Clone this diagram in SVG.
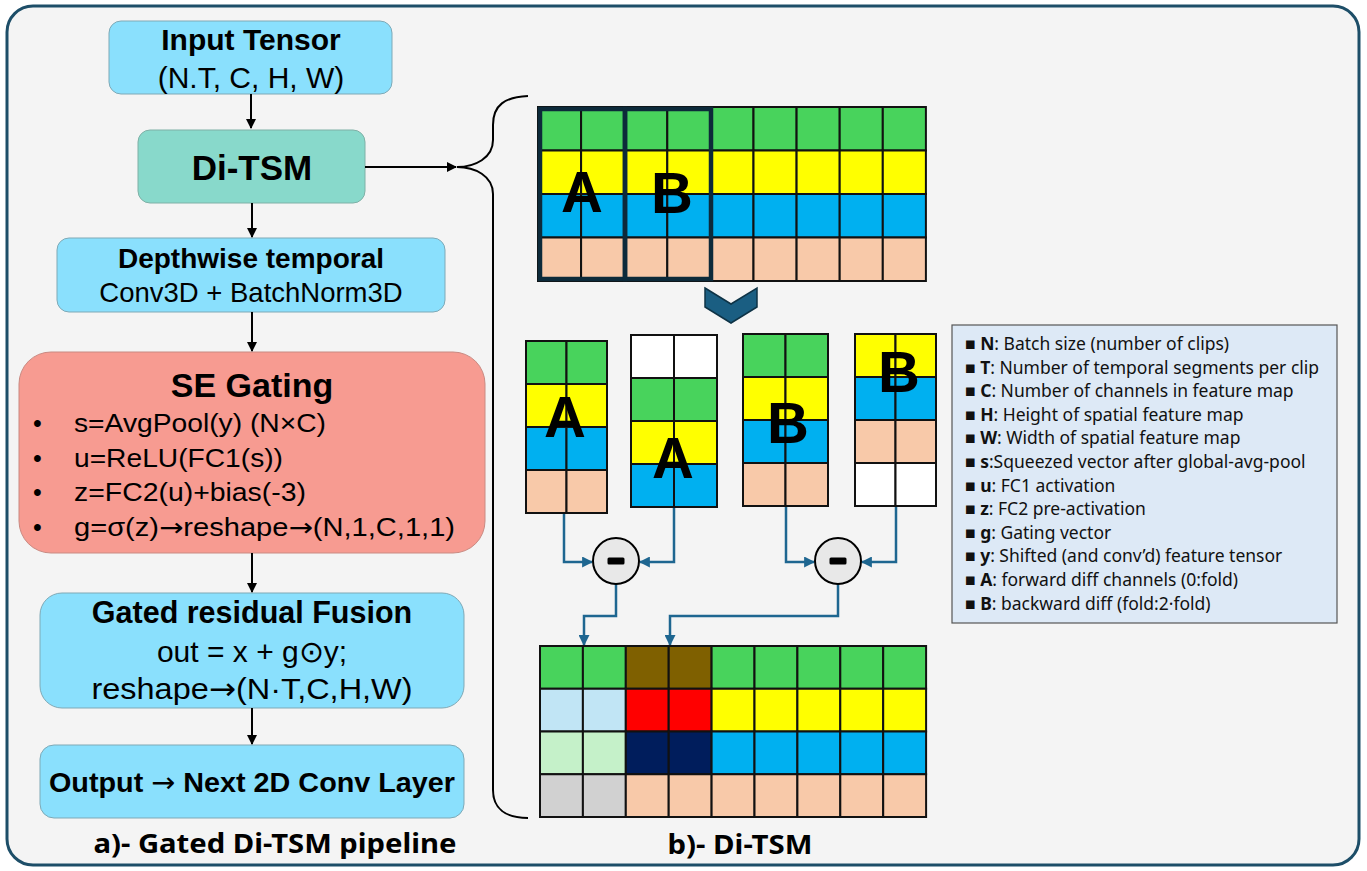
<svg xmlns="http://www.w3.org/2000/svg" width="1367" height="871" viewBox="0 0 1367 871">
<defs>
<marker id="ah" viewBox="0 0 10 10" refX="9" refY="5" markerWidth="10" markerHeight="10" markerUnits="userSpaceOnUse" orient="auto"><path d="M0,0 L10,5 L0,10 z" fill="#000"/></marker>
<marker id="ahb" viewBox="0 0 10 10" refX="9" refY="5" markerWidth="11" markerHeight="11" markerUnits="userSpaceOnUse" orient="auto"><path d="M0,0 L10,5 L0,10 z" fill="#1e6690"/></marker>
<style>
.box{fill:#8ae0fd;stroke:#7fa9b6;stroke-width:1}
.t{font-family:"Liberation Sans",Arial,sans-serif;fill:#000}
.b{font-weight:bold}
.ar{font-family:"DejaVu Sans",sans-serif;font-weight:normal}
.n{font-family:"Noto Sans","Open Sans",sans-serif;fill:#000}
.cell{stroke:#111;stroke-width:2}
.g{fill:#48d35c}.y{fill:#ffff00}.bl{fill:#00b0f0}.p{fill:#f8c9a9}.w{fill:#ffffff}
.big{font-family:"Liberation Sans",Arial,sans-serif;font-weight:bold;font-size:58px;text-anchor:middle}
.conn{fill:none;stroke:#1e6690;stroke-width:2.5}
.blk{fill:none;stroke:#000;stroke-width:2}
.leg{font-family:"Noto Sans","Open Sans",sans-serif;font-size:17.5px;fill:#111}
</style>
</defs>
<rect x="7" y="6" width="1352" height="859" rx="26" fill="#f4f4f4" stroke="#1d4e68" stroke-width="3"/>

<g id="input-tensor">
<rect class="box" x="109" y="21" width="283" height="73" rx="12"/>
<text class="t b" x="251" y="50" font-size="30" text-anchor="middle">Input Tensor</text>
<text class="t" x="251" y="88" font-size="30" text-anchor="middle">(N.T, C, H, W)</text>
</g>
<g id="di-tsm-node">
<rect x="138" y="130" width="227" height="73" rx="12" fill="#88d9cb" stroke="#7fb0a6" stroke-width="1"/>
<text class="t b" x="252" y="180" font-size="35" text-anchor="middle">Di-TSM</text>
</g>
<g id="depthwise">
<rect class="box" x="57" y="238" width="388" height="74" rx="12"/>
<text class="t b" x="251" y="268" font-size="28" text-anchor="middle">Depthwise temporal</text>
<text class="t" x="251" y="302" font-size="27.5" text-anchor="middle">Conv3D + BatchNorm3D</text>
</g>
<g id="se-gating">
<rect x="19" y="352" width="466" height="201" rx="32" fill="#f79b91" stroke="#c98a82" stroke-width="1"/>
<text class="t b" x="252" y="397" font-size="34" text-anchor="middle">SE Gating</text>
<g class="t" font-size="25">
<text x="33" y="432">•</text><text x="74" y="432" textLength="252" lengthAdjust="spacingAndGlyphs">s=AvgPool(y) (N×C)</text>
<text x="33" y="466.5">•</text><text x="74" y="466.5" textLength="209" lengthAdjust="spacingAndGlyphs">u=ReLU(FC1(s))</text>
<text x="33" y="501">•</text><text x="74" y="501" textLength="232" lengthAdjust="spacingAndGlyphs">z=FC2(u)+bias(-3)</text>
<text x="33" y="535.5">•</text><text x="74" y="535.5" textLength="381" lengthAdjust="spacingAndGlyphs">g=σ(z)<tspan class="ar">→</tspan>reshape<tspan class="ar">→</tspan>(N,1,C,1,1)</text>
</g>
</g>
<g id="gated-fusion">
<rect class="box" x="40" y="593" width="424" height="115" rx="22"/>
<text class="t b" x="252" y="623" font-size="30.5" text-anchor="middle">Gated residual Fusion</text>
<text class="t" x="252" y="662" font-size="30" text-anchor="middle">out = x + g⊙y;</text>
<text class="t" x="252" y="699" font-size="30" text-anchor="middle" textLength="321" lengthAdjust="spacingAndGlyphs">reshape<tspan class="ar">→</tspan>(N·T,C,H,W)</text>
</g>
<g id="output">
<rect class="box" x="40" y="745" width="424" height="73" rx="14"/>
<text class="t b" x="252" y="792" font-size="28" text-anchor="middle" textLength="406" lengthAdjust="spacingAndGlyphs">Output <tspan class="ar">→</tspan> Next 2D Conv Layer</text>
</g>
<g id="caption-a">
<text class="n b" x="275" y="853" font-size="26" font-weight="bold" text-anchor="middle" textLength="363" lengthAdjust="spacingAndGlyphs">a)- Gated Di-TSM pipeline</text>
</g>

<g id="connectors">
<line class="blk" x1="251" y1="94" x2="251" y2="128" marker-end="url(#ah)"/>
<line class="blk" x1="252" y1="203" x2="252" y2="237" marker-end="url(#ah)"/>
<line class="blk" x1="252" y1="312" x2="252" y2="351" marker-end="url(#ah)"/>
<line class="blk" x1="252" y1="553" x2="252" y2="592" marker-end="url(#ah)"/>
<line class="blk" x1="252" y1="708" x2="252" y2="744" marker-end="url(#ah)"/>
<line class="blk" x1="365" y1="167" x2="456" y2="167" marker-end="url(#ah)"/>
<path class="blk" stroke-width="2.5" d="M528,96 C505,97 493,105 493,125 L493,140 C493,158 475,167 457,167 C475,167 493,176 493,194 L493,790 C493,808 505,818 528,818"/>
<path class="conn" d="M564,508 V562 H592" marker-end="url(#ahb)"/>
<path class="conn" d="M674,507 V562 H640" marker-end="url(#ahb)"/>
<path class="conn" d="M786,506 V562 H814" marker-end="url(#ahb)"/>
<path class="conn" d="M896,506 V562 H862" marker-end="url(#ahb)"/>
<path class="conn" d="M616,584 V616 H584 V645" marker-end="url(#ahb)"/>
<path class="conn" d="M838,584 V616 H670 V645" marker-end="url(#ahb)"/>
</g>

<g id="top-grid">
<g class="cell">
<rect class="g" x="538" y="107" width="43.1" height="43.5"/><rect class="g" x="581.1" y="107" width="43.1" height="43.5"/><rect class="g" x="624.2" y="107" width="43.1" height="43.5"/><rect class="g" x="667.3" y="107" width="43.1" height="43.5"/><rect class="g" x="710.4" y="107" width="43.1" height="43.5"/><rect class="g" x="753.5" y="107" width="43.1" height="43.5"/><rect class="g" x="796.6" y="107" width="43.1" height="43.5"/><rect class="g" x="839.7" y="107" width="43.1" height="43.5"/><rect class="g" x="882.8" y="107" width="43.1" height="43.5"/>
<rect class="y" x="538" y="150.5" width="43.1" height="43.5"/><rect class="y" x="581.1" y="150.5" width="43.1" height="43.5"/><rect class="y" x="624.2" y="150.5" width="43.1" height="43.5"/><rect class="y" x="667.3" y="150.5" width="43.1" height="43.5"/><rect class="y" x="710.4" y="150.5" width="43.1" height="43.5"/><rect class="y" x="753.5" y="150.5" width="43.1" height="43.5"/><rect class="y" x="796.6" y="150.5" width="43.1" height="43.5"/><rect class="y" x="839.7" y="150.5" width="43.1" height="43.5"/><rect class="y" x="882.8" y="150.5" width="43.1" height="43.5"/>
<rect class="bl" x="538" y="194" width="43.1" height="43.5"/><rect class="bl" x="581.1" y="194" width="43.1" height="43.5"/><rect class="bl" x="624.2" y="194" width="43.1" height="43.5"/><rect class="bl" x="667.3" y="194" width="43.1" height="43.5"/><rect class="bl" x="710.4" y="194" width="43.1" height="43.5"/><rect class="bl" x="753.5" y="194" width="43.1" height="43.5"/><rect class="bl" x="796.6" y="194" width="43.1" height="43.5"/><rect class="bl" x="839.7" y="194" width="43.1" height="43.5"/><rect class="bl" x="882.8" y="194" width="43.1" height="43.5"/>
<rect class="p" x="538" y="237.5" width="43.1" height="43.5"/><rect class="p" x="581.1" y="237.5" width="43.1" height="43.5"/><rect class="p" x="624.2" y="237.5" width="43.1" height="43.5"/><rect class="p" x="667.3" y="237.5" width="43.1" height="43.5"/><rect class="p" x="710.4" y="237.5" width="43.1" height="43.5"/><rect class="p" x="753.5" y="237.5" width="43.1" height="43.5"/><rect class="p" x="796.6" y="237.5" width="43.1" height="43.5"/><rect class="p" x="839.7" y="237.5" width="43.1" height="43.5"/><rect class="p" x="882.8" y="237.5" width="43.1" height="43.5"/>
</g>
<rect x="540" y="109" width="85" height="170" fill="none" stroke="#0d2a3a" stroke-width="4.5"/>
<rect x="625" y="109" width="86" height="170" fill="none" stroke="#0d2a3a" stroke-width="4.5"/>
<text class="big" x="582" y="212">A</text>
<text class="big" x="672" y="213">B</text>
</g>

<g id="chevron">
<path d="M705,288 L731,304 L757,288 L757,307 L731,323 L705,307 Z" fill="#1a5e82" stroke="#0e3346" stroke-width="1.5"/>
</g>

<g id="grid-a1">
<g class="cell">
<rect class="g" x="526" y="341" width="40.5" height="43"/><rect class="g" x="566.5" y="341" width="40.5" height="43"/>
<rect class="y" x="526" y="384" width="40.5" height="43"/><rect class="y" x="566.5" y="384" width="40.5" height="43"/>
<rect class="bl" x="526" y="427" width="40.5" height="43"/><rect class="bl" x="566.5" y="427" width="40.5" height="43"/>
<rect class="p" x="526" y="470" width="40.5" height="43"/><rect class="p" x="566.5" y="470" width="40.5" height="43"/>
</g>
<text class="big" x="565" y="437">A</text>
</g>
<g id="grid-a2">
<g class="cell">
<rect class="w" x="631" y="335" width="43" height="43"/><rect class="w" x="674" y="335" width="43" height="43"/>
<rect class="g" x="631" y="378" width="43" height="43"/><rect class="g" x="674" y="378" width="43" height="43"/>
<rect class="y" x="631" y="421" width="43" height="43"/><rect class="y" x="674" y="421" width="43" height="43"/>
<rect class="bl" x="631" y="464" width="43" height="43"/><rect class="bl" x="674" y="464" width="43" height="43"/>
</g>
<text class="big" x="673" y="478">A</text>
</g>
<g id="grid-b1">
<g class="cell">
<rect class="g" x="743" y="334" width="42.5" height="43"/><rect class="g" x="785.5" y="334" width="42.5" height="43"/>
<rect class="y" x="743" y="377" width="42.5" height="43"/><rect class="y" x="785.5" y="377" width="42.5" height="43"/>
<rect class="bl" x="743" y="420" width="42.5" height="43"/><rect class="bl" x="785.5" y="420" width="42.5" height="43"/>
<rect class="p" x="743" y="463" width="42.5" height="43"/><rect class="p" x="785.5" y="463" width="42.5" height="43"/>
</g>
<text class="big" x="788" y="443">B</text>
</g>
<g id="grid-b2">
<g class="cell">
<rect class="y" x="855" y="334" width="40.5" height="43"/><rect class="y" x="895.5" y="334" width="40.5" height="43"/>
<rect class="bl" x="855" y="377" width="40.5" height="43"/><rect class="bl" x="895.5" y="377" width="40.5" height="43"/>
<rect class="p" x="855" y="420" width="40.5" height="43"/><rect class="p" x="895.5" y="420" width="40.5" height="43"/>
<rect class="w" x="855" y="463" width="40.5" height="43"/><rect class="w" x="895.5" y="463" width="40.5" height="43"/>
</g>
<text class="big" x="899" y="392">B</text>
</g>

<g id="minus-1">
<circle cx="616" cy="561" r="23" fill="#e8e8e8" stroke="#000" stroke-width="2"/>
<rect x="607.5" y="557.5" width="17" height="7" rx="1.5" fill="#000"/>
</g>
<g id="minus-2">
<circle cx="838" cy="561" r="23" fill="#e8e8e8" stroke="#000" stroke-width="2"/>
<rect x="829.5" y="557.5" width="17" height="7" rx="1.5" fill="#000"/>
</g>

<g id="bottom-grid">
<g class="cell">
<rect class="g" x="540" y="646" width="42.9" height="42.75"/><rect class="g" x="582.9" y="646" width="42.9" height="42.75"/><rect fill="#7f6000" x="625.8" y="646" width="42.9" height="42.75"/><rect fill="#7f6000" x="668.7" y="646" width="42.9" height="42.75"/><rect class="g" x="711.6" y="646" width="42.9" height="42.75"/><rect class="g" x="754.5" y="646" width="42.9" height="42.75"/><rect class="g" x="797.4" y="646" width="42.9" height="42.75"/><rect class="g" x="840.3" y="646" width="42.9" height="42.75"/><rect class="g" x="883.2" y="646" width="42.9" height="42.75"/>
<rect fill="#c1e5f5" x="540" y="688.75" width="42.9" height="42.75"/><rect fill="#c1e5f5" x="582.9" y="688.75" width="42.9" height="42.75"/><rect fill="#ff0000" x="625.8" y="688.75" width="42.9" height="42.75"/><rect fill="#ff0000" x="668.7" y="688.75" width="42.9" height="42.75"/><rect class="y" x="711.6" y="688.75" width="42.9" height="42.75"/><rect class="y" x="754.5" y="688.75" width="42.9" height="42.75"/><rect class="y" x="797.4" y="688.75" width="42.9" height="42.75"/><rect class="y" x="840.3" y="688.75" width="42.9" height="42.75"/><rect class="y" x="883.2" y="688.75" width="42.9" height="42.75"/>
<rect fill="#c5f1c9" x="540" y="731.5" width="42.9" height="42.75"/><rect fill="#c5f1c9" x="582.9" y="731.5" width="42.9" height="42.75"/><rect fill="#001d5c" x="625.8" y="731.5" width="42.9" height="42.75"/><rect fill="#001d5c" x="668.7" y="731.5" width="42.9" height="42.75"/><rect class="bl" x="711.6" y="731.5" width="42.9" height="42.75"/><rect class="bl" x="754.5" y="731.5" width="42.9" height="42.75"/><rect class="bl" x="797.4" y="731.5" width="42.9" height="42.75"/><rect class="bl" x="840.3" y="731.5" width="42.9" height="42.75"/><rect class="bl" x="883.2" y="731.5" width="42.9" height="42.75"/>
<rect fill="#d1d1d1" x="540" y="774.25" width="42.9" height="42.75"/><rect fill="#d1d1d1" x="582.9" y="774.25" width="42.9" height="42.75"/><rect class="p" x="625.8" y="774.25" width="42.9" height="42.75"/><rect class="p" x="668.7" y="774.25" width="42.9" height="42.75"/><rect class="p" x="711.6" y="774.25" width="42.9" height="42.75"/><rect class="p" x="754.5" y="774.25" width="42.9" height="42.75"/><rect class="p" x="797.4" y="774.25" width="42.9" height="42.75"/><rect class="p" x="840.3" y="774.25" width="42.9" height="42.75"/><rect class="p" x="883.2" y="774.25" width="42.9" height="42.75"/>
</g>
</g>
<g id="caption-b">
<text class="n" x="740" y="854" font-size="26" font-weight="bold" text-anchor="middle" textLength="145" lengthAdjust="spacingAndGlyphs">b)- Di-TSM</text>
</g>

<g id="legend">
<rect x="952" y="325" width="385" height="298" fill="#dde9f6" stroke="#555" stroke-width="1.2"/>
<g class="leg">
<text x="965" y="350">■ <tspan font-weight="bold">N</tspan>: Batch size (number of clips)</text>
<text x="965" y="373.6">■ <tspan font-weight="bold">T</tspan>: Number of temporal segments per clip</text>
<text x="965" y="397.2">■ <tspan font-weight="bold">C</tspan>: Number of channels in feature map</text>
<text x="965" y="420.8">■ <tspan font-weight="bold">H</tspan>: Height of spatial feature map</text>
<text x="965" y="444.4">■ <tspan font-weight="bold">W</tspan>: Width of spatial feature map</text>
<text x="965" y="468">■ <tspan font-weight="bold">s</tspan>:Squeezed vector after global-avg-pool</text>
<text x="965" y="491.6">■ <tspan font-weight="bold">u</tspan>: FC1 activation</text>
<text x="965" y="515.2">■ <tspan font-weight="bold">z</tspan>: FC2 pre-activation</text>
<text x="965" y="538.8">■ <tspan font-weight="bold">g</tspan>: Gating vector</text>
<text x="965" y="562.4">■ <tspan font-weight="bold">y</tspan>: Shifted (and conv’d) feature tensor</text>
<text x="965" y="586">■ <tspan font-weight="bold">A</tspan>: forward diff channels (0:fold)</text>
<text x="965" y="609.6">■ <tspan font-weight="bold">B</tspan>: backward diff (fold:2·fold)</text>
</g>
</g>
</svg>
